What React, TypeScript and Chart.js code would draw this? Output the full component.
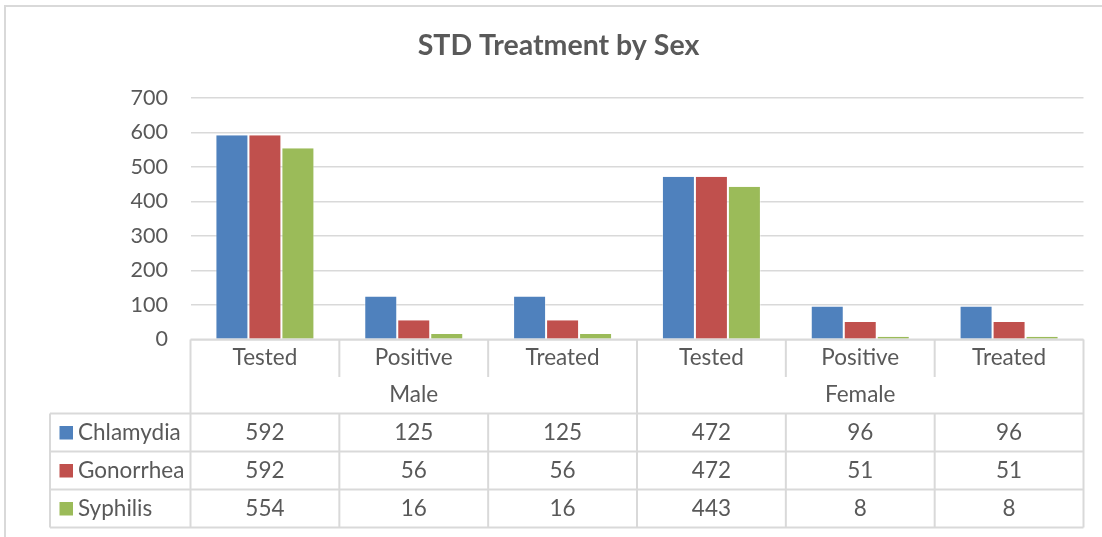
import { useEffect, useRef } from "react";
import { Chart, registerables } from "chart.js";

Chart.register(...registerables);

const chartTitle = "STD Treatment by Sex";
const categories = ["Tested", "Positive", "Treated", "Tested", "Positive", "Treated"];
const groups = ["Male", "Female"];
const groupSizes = [3, 3];
const seriesNames = ["Chlamydia", "Gonorrhea", "Syphilis"];
const chlamydia = [592, 125, 125, 472, 96, 96];
const gonorrhea = [592, 56, 56, 472, 51, 51];
const syphilis = [554, 16, 16, 443, 8, 8];
const seriesColors = ["#4F81BD", "#C0504D", "#9BBB59"];
const yMax = 700;
const yStep = 100;

const TEXT = "#595959";
const LINE = "#D9D9D9";
const FONT = "Lato, 'Open Sans', sans-serif";

const tablePlugin = {
  id: "dataTable",
  beforeDraw(chart: any) {
    const ctx = chart.ctx;
    ctx.save();
    ctx.strokeStyle = LINE;
    ctx.lineWidth = 2;
    ctx.strokeRect(5, 6, chart.width + 20, chart.height + 20);
    ctx.restore();
  },
  afterDraw(chart: any) {
    const ctx = chart.ctx;
    const xs = chart.scales.x;
    const area = chart.chartArea;
    const series = [chlamydia, gonorrhea, syphilis];
    const n = categories.length;
    const edge = (i: number) => xs.getPixelForValue(i - 0.5);
    const top = area.bottom;
    const rowCat = top + 37.5;
    const rowGrp = top + 74;
    const rowH = 38;
    const dataBottom = rowGrp + rowH * series.length;
    const legendLeft = 50;

    ctx.save();
    // title
    ctx.fillStyle = TEXT;
    ctx.font = `bold 28.5px ${FONT}`;
    ctx.textAlign = "center";
    ctx.textBaseline = "middle";
    ctx.fillText(chartTitle, 558.5, 46);

    ctx.strokeStyle = LINE;
    ctx.lineWidth = 2;
    const line = (x1: number, y1: number, x2: number, y2: number) => {
      ctx.beginPath();
      ctx.moveTo(x1, y1);
      ctx.lineTo(x2, y2);
      ctx.stroke();
    };
    line(area.left, top, area.right, top);
    const groupEdges: number[] = [0];
    let acc = 0;
    groupSizes.forEach((g) => {
      acc += g;
      groupEdges.push(acc);
    });
    for (let i = 0; i <= n; i++) {
      const x = edge(i);
      if (groupEdges.includes(i)) {
        line(x, top, x, dataBottom);
      } else {
        line(x, top, x, rowCat);
        line(x, rowGrp, x, dataBottom);
      }
    }
    for (let r = 0; r <= series.length; r++) {
      const y = rowGrp + r * rowH;
      line(legendLeft, y, area.right, y);
    }
    line(legendLeft, rowGrp, legendLeft, dataBottom);

    ctx.fillStyle = TEXT;
    ctx.font = `22.5px ${FONT}`;
    ctx.textAlign = "center";
    ctx.textBaseline = "middle";
    for (let i = 0; i < n; i++) {
      ctx.fillText(categories[i], xs.getPixelForValue(i), top + 18.5);
    }
    for (let g = 0; g < groups.length; g++) {
      const x = (edge(groupEdges[g]) + edge(groupEdges[g + 1])) / 2;
      ctx.fillText(groups[g], x, top + 55);
    }
    for (let r = 0; r < series.length; r++) {
      const cy = rowGrp + r * rowH + rowH / 2;
      for (let i = 0; i < n; i++) {
        ctx.fillText(String(series[r][i]), xs.getPixelForValue(i), cy);
      }
      ctx.fillStyle = seriesColors[r];
      ctx.fillRect(59.5, cy - 6.5, 13.5, 13.5);
      ctx.fillStyle = TEXT;
      ctx.textAlign = "left";
      ctx.fillText(seriesNames[r], 78, cy);
      ctx.textAlign = "center";
    }
    ctx.restore();
  },
};

export default function App() {
  const ref = useRef<HTMLCanvasElement | null>(null);
  useEffect(() => {
    if (!ref.current) return;
    const datasets = [chlamydia, gonorrhea, syphilis].map((d, i) => ({
      label: seriesNames[i],
      data: d,
      backgroundColor: seriesColors[i],
      borderColor: "rgba(255,255,255,0.45)",
      borderWidth: { left: 1, right: 1, top: 0, bottom: 0 },
      borderSkipped: false,
      categoryPercentage: 0.665,
      barPercentage: 1,
    }));
    const chart = new Chart(ref.current, {
      type: "bar",
      data: { labels: categories, datasets },
      options: {
        responsive: false,
        animation: false,
        layout: { padding: { top: 98, left: 0, right: 18.5, bottom: 197.5 } },
        plugins: {
          legend: { display: false },
          title: { display: false },
          tooltip: { enabled: false },
        },
        scales: {
          x: { display: false },
          y: {
            min: 0,
            max: yMax,
            ticks: {
              stepSize: yStep,
              padding: 22.5,
              color: TEXT,
              font: { family: FONT, size: 21.5 },
            },
            grid: { color: LINE, lineWidth: 1.5, drawTicks: false },
            border: { display: false },
            afterFit: (s: any) => {
              s.width = 190.5;
            },
          },
        },
      },
      plugins: [tablePlugin],
    });
    return () => chart.destroy();
  }, []);
  return (
    <div style={{ position: "fixed", left: 0, top: 0, width: 1102, height: 537, background: "#fff" }}>
      <canvas ref={ref} width={1102} height={537} style={{ display: "block" }} />
    </div>
  );
}
